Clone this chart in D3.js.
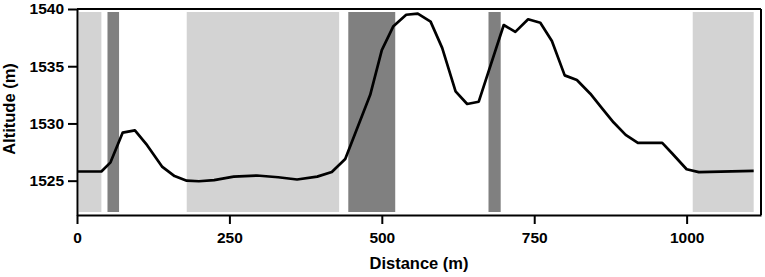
<!DOCTYPE html>
<html>
<head>
<meta charset="utf-8">
<script src="https://cdn.jsdelivr.net/npm/d3@7"></script>
<style>
  body { margin: 0; background: #fff; }
  text { font-family: "Liberation Sans", Arial, sans-serif; font-weight: bold; fill: #000; }
</style>
</head>
<body>
<div id="chart"></div>
<script>
// distance / altitude profile
const distance = [0, 40, 55, 75, 95, 115, 140, 160, 180, 200, 225, 257, 295, 330, 361, 394, 418, 440,
    481, 500, 519, 540, 559, 580, 599, 621, 640, 659, 700, 719, 740, 760, 779, 800, 820, 842,
    860, 880, 900, 920, 960, 976, 1000, 1020, 1110];
const altitude = [1525.8, 1525.8, 1526.6, 1529.2, 1529.4, 1528.1, 1526.2, 1525.4, 1525.0, 1524.95, 1525.05,
    1525.35, 1525.45, 1525.3, 1525.1, 1525.35, 1525.75, 1526.9,
    1532.5, 1536.4, 1538.5, 1539.5, 1539.6, 1538.9, 1536.6, 1532.8, 1531.7, 1531.9, 1538.6, 1538.0,
    1539.1, 1538.8, 1537.2, 1534.2, 1533.8, 1532.6, 1531.4, 1530.1, 1529.0, 1528.3, 1528.3, 1527.4,
    1526.0, 1525.75, 1525.85];

// shaded sections
const bandStart = [3, 50, 180, 445, 675, 1010];
const bandEnd = [40, 69, 430, 522, 695, 1110];
const bandKind = ["light", "dark", "light", "dark", "dark", "light"];

const xTicks = [0, 250, 500, 750, 1000];
const yTicks = [1525, 1530, 1535, 1540];

const W = 765, H = 277;
const margin = {top: 9, right: 4, bottom: 62, left: 77};
const width = W - margin.left - margin.right;
const height = H - margin.top - margin.bottom;

const svg = d3.select("#chart").append("svg")
    .attr("width", W)
    .attr("height", H);

const g = svg.append("g")
    .attr("transform", "translate(" + margin.left + "," + margin.top + ")");

const x = d3.scaleLinear().domain([0, 1122]).range([0, width]);
const y = d3.scaleLinear().domain([1522, 1540]).range([height, 0]);

const bandColors = {light: "#d3d3d3", dark: "#808080"};

// bands
const bands = bandStart.map((s, i) => ({start: s, end: bandEnd[i], kind: bandKind[i]}));
g.selectAll(".band")
    .data(bands)
    .enter()
    .append("rect")
    .attr("class", "band")
    .attr("x", d => x(d.start))
    .attr("width", d => x(d.end) - x(d.start))
    .attr("y", 3)
    .attr("height", height - 6)
    .attr("fill", d => bandColors[d.kind]);

// profile line
const points = distance.map((d, i) => ({d: d, a: altitude[i]}));
const line = d3.line().x(p => x(p.d)).y(p => y(p.a));
g.append("path")
    .datum(points)
    .attr("fill", "none")
    .attr("stroke", "#000")
    .attr("stroke-width", 2.7)
    .attr("stroke-linejoin", "round")
    .attr("d", line);

// frame (top + right)
g.append("line").attr("x1", 0).attr("x2", width).attr("y1", 0).attr("y2", 0)
    .attr("stroke", "#000").attr("stroke-width", 2);
g.append("line").attr("x1", width).attr("x2", width).attr("y1", 0).attr("y2", height)
    .attr("stroke", "#000").attr("stroke-width", 2);

// axes
const fmt = d3.format("d");
const xAxis = g.append("g")
    .attr("transform", "translate(0," + height + ")")
    .call(d3.axisBottom(x).tickValues(xTicks).tickFormat(fmt).tickSize(9).tickPadding(8).tickSizeOuter(0));
const yAxis = g.append("g")
    .call(d3.axisLeft(y).tickValues(yTicks).tickFormat(fmt).tickSize(9).tickPadding(4).tickSizeOuter(0));

[xAxis, yAxis].forEach(a => {
    a.select(".domain").attr("stroke", "#000").attr("stroke-width", 2);
    a.selectAll(".tick line").attr("stroke", "#000").attr("stroke-width", 2);
    a.selectAll(".tick text").style("font-size", "15.5px").attr("fill", "#000");
});

// axis titles
svg.append("text")
    .attr("x", margin.left + width / 2)
    .attr("y", 269)
    .attr("text-anchor", "middle")
    .style("font-size", "16.5px")
    .text("Distance (m)");

svg.append("text")
    .attr("transform", "translate(15," + (margin.top + height / 2 - 3) + ") rotate(-90)")
    .attr("text-anchor", "middle")
    .style("font-size", "16.5px")
    .text("Altitude (m)");
</script>
</body>
</html>
